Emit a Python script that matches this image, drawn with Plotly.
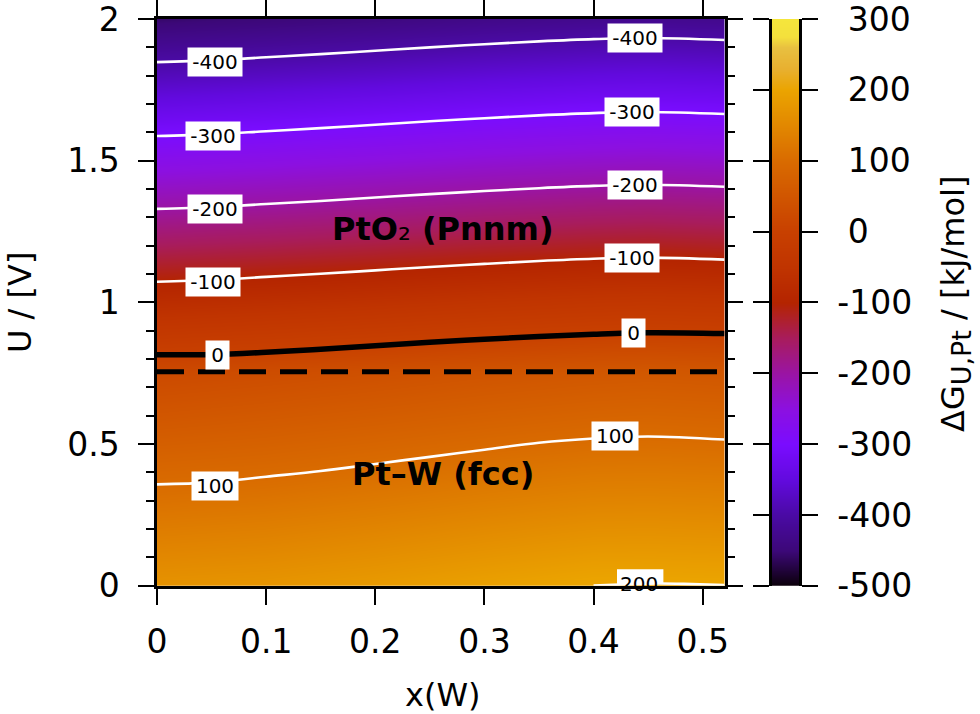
# Pt-W / PtO2 stability map: dG(x, U) with contour labels and a bar on the right
import plotly.graph_objects as go

FONT = "DejaVu Sans"
W, H = 980, 714


def px_x(p):
    return p / W


def px_y(p):
    return 1 - p / H


# heatmap grid
x_nodes = [0, 0.1, 0.2, 0.3, 0.4, 0.45, 0.52]
u_nodes = [0, 0.2, 0.4, 0.6, 0.755, 1.0, 1.2, 1.4, 1.6, 1.8, 2.0]
dg = [
    [170, 174, 183, 194, 204, 204, 203],
    [131, 136, 145, 155, 164, 165, 163],
    [92, 97, 106, 116, 124, 125, 123],
    [52, 59, 67, 76, 84, 86, 83],
    [22, 29, 37, 46, 53, 55, 52],
    [-72, -65, -57, -48, -41, -39, -42],
    [-149, -142, -134, -125, -118, -116, -119],
    [-226, -219, -211, -202, -195, -193, -196],
    [-303, -296, -288, -279, -272, -270, -273],
    [-380, -373, -365, -356, -349, -347, -350],
    [-456, -449, -441, -432, -425, -423, -426],
]

# contour lines
x_line = [0, 0.05, 0.1, 0.15, 0.2, 0.25, 0.3, 0.35, 0.4, 0.45, 0.52]
u_m400 = [1.848, 1.854, 1.865, 1.876, 1.888, 1.900, 1.911, 1.921, 1.929, 1.933, 1.926]
u_m300 = [1.587, 1.593, 1.604, 1.615, 1.627, 1.639, 1.650, 1.660, 1.668, 1.672, 1.665]
u_m200 = [1.330, 1.336, 1.347, 1.358, 1.370, 1.382, 1.393, 1.403, 1.411, 1.415, 1.408]
u_m100 = [1.073, 1.079, 1.090, 1.101, 1.113, 1.125, 1.136, 1.146, 1.154, 1.158, 1.151]
u_zero = [0.815, 0.816, 0.824, 0.835, 0.847, 0.859, 0.870, 0.880, 0.888, 0.893, 0.890]
u_p100 = [0.358, 0.365, 0.385, 0.405, 0.430, 0.455, 0.480, 0.505, 0.520, 0.527, 0.516]
x_p200 = [0.40, 0.43, 0.46, 0.49, 0.52]
u_p200 = [0.001, 0.005, 0.008, 0.006, 0.003]
u_boundary = 0.755

# contour labels: text, x, U
label_text = ["-400", "-300", "-200", "-100", "0", "100",
              "-400", "-300", "-200", "-100", "0", "100"]
label_x = [0.053, 0.051, 0.053, 0.051, 0.055, 0.053,
           0.438, 0.435, 0.438, 0.435, 0.437, 0.420]
label_u = [1.848, 1.587, 1.330, 1.073, 0.815, 0.353,
           1.933, 1.672, 1.415, 1.158, 0.893, 0.527]

# colour bar
bar_values = [-500, 300]
bar_ticks = [-500, -400, -300, -200, -100, 0, 100, 200, 300]
bar_ticktext = ["-500", "-400", "-300", "-200", "-100",
                "\u00a00", "\u00a0100", "\u00a0200", "\u00a0300"]
palette = [
    (-500, "#0a0008"), (-450, "#3c0878"), (-400, "#4a0aa4"), (-350, "#620ade"),
    (-300, "#7a0cff"), (-250, "#8c10e0"), (-200, "#9a14a4"), (-150, "#a81c5c"),
    (-100, "#b42400"), (-50, "#c03400"), (0, "#c84000"), (100, "#d96b00"),
    (200, "#eba400"), (230, "#e8b030"), (260, "#e8c040"), (275, "#f4e03c"),
    (300, "#f5e63c"),
]
colorscale = [[(v + 500) / 800, c] for v, c in palette]

fig = go.Figure()

fig.add_trace(go.Heatmap(
    x=x_nodes, y=u_nodes, z=dg, zmin=-500, zmax=300, zsmooth="best",
    colorscale=colorscale, showscale=False, hoverinfo="skip",
))

for xs, us in [(x_line, u_m400), (x_line, u_m300), (x_line, u_m200),
               (x_line, u_m100), (x_line, u_p100), (x_p200, u_p200)]:
    fig.add_trace(go.Scatter(x=xs, y=us, mode="lines",
                             line=dict(color="white", width=2.6, shape="spline"),
                             showlegend=False, hoverinfo="skip"))

fig.add_trace(go.Scatter(x=x_line, y=u_zero, mode="lines",
                         line=dict(color="black", width=5.5, shape="spline"),
                         showlegend=False, hoverinfo="skip"))
fig.add_trace(go.Scatter(x=[0, 0.52], y=[u_boundary, u_boundary], mode="lines",
                         line=dict(color="black", width=5, dash="27px,14px"),
                         showlegend=False, hoverinfo="skip"))

# bar drawn as its own small heatmap so it can have ticks on both sides
fig.add_trace(go.Heatmap(
    x=[0, 1], y=bar_values, z=[[bar_values[0]] * 2, [bar_values[1]] * 2],
    xaxis="x2", yaxis="y2", zmin=-500, zmax=300, zsmooth="best",
    colorscale=colorscale, showscale=False, hoverinfo="skip",
))

box_width = {1: 23, 3: 46, 4: 54}
for txt, lx, lu in zip(label_text, label_x, label_u):
    fig.add_annotation(x=lx, y=lu, text=txt, showarrow=False, bgcolor="white",
                       font=dict(family=FONT, size=20, color="black"),
                       width=box_width[len(txt)], height=28, borderpad=0)

# the 200 label sits on the frame, its box is cut off there
fig.add_shape(type="rect", x0=0.4215, x1=0.464, y0=0.006, y1=0.058, layer="above",
              fillcolor="white", line_width=0)
fig.add_annotation(x=0.442, y=0.006, text="200", showarrow=False,
                   font=dict(family=FONT, size=20, color="black"))

fig.add_annotation(x=0.262, y=1.26, showarrow=False,
                   text="<b>PtO</b>₂<b> (Pnnm)</b>",
                   font=dict(family=FONT, size=32, color="black"))
fig.add_annotation(x=0.262, y=0.393, showarrow=False,
                   text="<b>Pt–W (fcc)</b>",
                   font=dict(family=FONT, size=32, color="black"))

axis_style = dict(
    showgrid=False, zeroline=False, showline=True, linecolor="black", linewidth=2.5,
    ticks="outside", tickcolor="black", tickwidth=2, mirror="allticks",
    tickfont=dict(family=FONT, size=33, color="black"), automargin=False,
    ticklabeloverflow="allow",
)
y_domain = [px_y(585.8), px_y(19)]

fig.update_layout(
    width=W, height=H, margin=dict(l=0, r=0, t=0, b=0, pad=0),
    paper_bgcolor="white", plot_bgcolor="white", showlegend=False,
    font=dict(family=FONT, color="black"),
    xaxis=dict(
        axis_style, domain=[px_x(157), px_x(724.5)], range=[0, 0.52],
        tickvals=[0, 0.1, 0.2, 0.3, 0.4, 0.5], ticktext=["0", "0.1", "0.2", "0.3", "0.4", "0.5"],
        ticklen=16, anchor="y", ticklabelstandoff=9,
    ),
    yaxis=dict(
        axis_style, domain=y_domain, range=[0, 2],
        tickvals=[0, 0.5, 1, 1.5, 2], ticktext=["0", "0.5", "1", "1.5", "2"],
        ticklen=16, anchor="x", ticklabelstandoff=12,
        minor=dict(dtick=0.1, ticks="outside", ticklen=8, tickwidth=2, tickcolor="black"),
    ),
    xaxis2=dict(domain=[px_x(771.5), px_x(799)], range=[0, 1], visible=False, anchor="y2"),
    yaxis2=dict(
        axis_style, domain=y_domain, range=[-500, 300],
        tickvals=bar_ticks, ticktext=bar_ticktext,
        ticklen=16, side="right", anchor="x2", ticklabelstandoff=13,
    ),
)

title_style = dict(xref="paper", yref="paper", showarrow=False, xanchor="center", yanchor="middle",
                   font=dict(family=FONT, size=32, color="black"))
fig.add_annotation(x=px_x(443), y=px_y(695), text="x(W)", **title_style)
fig.add_annotation(x=px_x(20), y=px_y(303), textangle=-90, text="U / [V]", **title_style)
fig.add_annotation(x=px_x(955), y=px_y(304), textangle=-90,
                   text="ΔG<sub><span style='font-size:27px'>U,Pt</span></sub> / [kJ/mol]",
                   **title_style)

# drop the page's default body margin so the figure fills the window
fig.write_html("out.html", config={"displayModeBar": False},
               post_script="document.body.style.margin = '0';")
